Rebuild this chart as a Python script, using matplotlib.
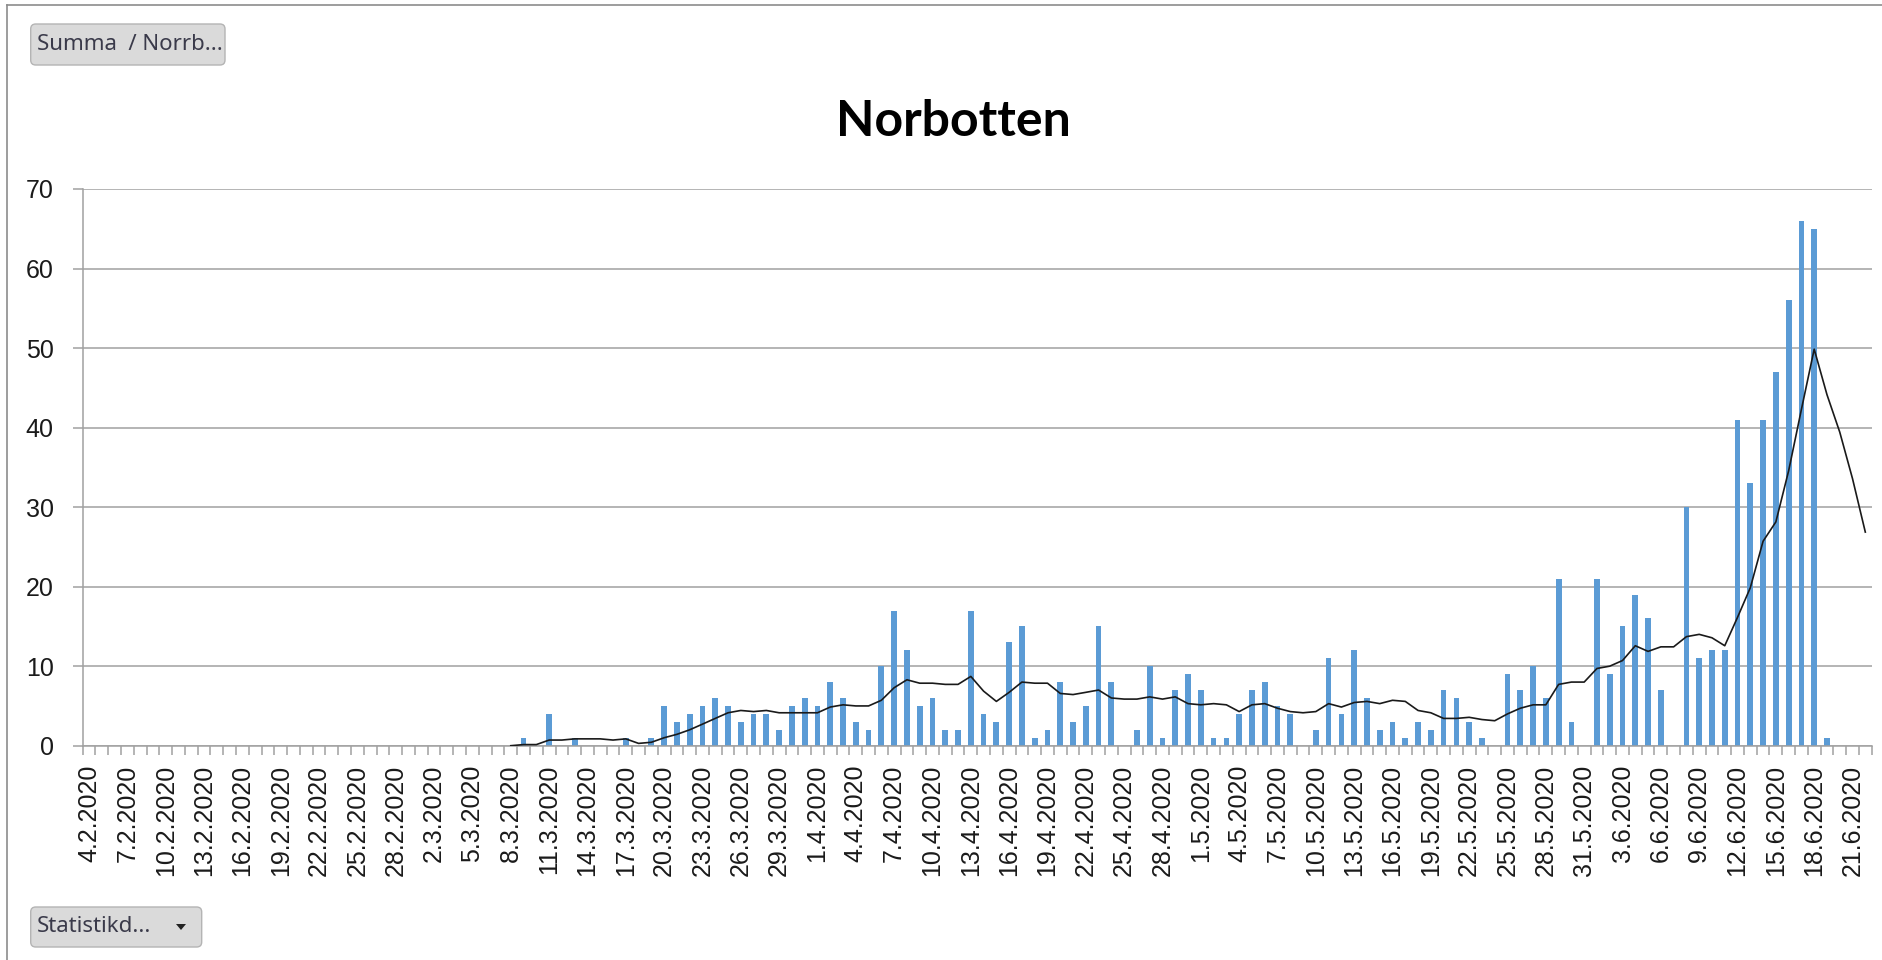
import numpy as np
import pandas as pd
import matplotlib
matplotlib.use("Agg")
import matplotlib.pyplot as plt
from matplotlib.patches import FancyBboxPatch, Polygon
from matplotlib.lines import Line2D
from matplotlib.transforms import Affine2D

# Dagar 4.2.2020 - 22.6.2020
days = pd.date_range("2020-02-04", "2020-06-22", freq="D")
day_labels = [f"{d.day}.{d.month}.{d.year}" for d in days]

# Fall per dag, Norrbotten (från 9.3.2020)
cases = [0] * 34 + [
    1, 0, 4, 0, 1, 0, 0, 0, 1, 0,
    1, 5, 3, 4, 5, 6, 5, 3, 4, 4,
    2, 5, 6, 5, 8, 6, 3, 2, 10, 17,
    12, 5, 6, 2, 2, 17, 4, 3, 13, 15,
    1, 2, 8, 3, 5, 15, 8, 0, 2, 10,
    1, 7, 9, 7, 1, 1, 4, 7, 8, 5,
    4, 0, 2, 11, 4, 12, 6, 2, 3, 1,
    3, 2, 7, 6, 3, 1, 0, 9, 7, 10,
    6, 21, 3, 0, 21, 9, 15, 19, 16, 7,
    0, 30, 11, 12, 12, 41, 33, 41, 47, 56,
    66, 65, 1, 0, 0, 0,
]

# Glidande medelvärde (avläst), från 8.3.2020
avg_start = 33
avg7 = [
    0, 0.14, 0.14, 0.71, 0.71, 0.86, 0.86, 0.86, 0.71, 0.86,
    0.29, 0.43, 1.0, 1.43, 2.0, 2.71, 3.43, 4.14, 4.43, 4.29,
    4.43, 4.14, 4.14, 4.14, 4.14, 4.86, 5.14, 5.0, 5.0, 5.71,
    7.29, 8.29, 7.86, 7.86, 7.71, 7.71, 8.71, 6.86, 5.57, 6.71,
    8.0, 7.86, 7.86, 6.57, 6.43, 6.71, 7.0, 6.0, 5.86, 5.86,
    6.14, 5.86, 6.14, 5.29, 5.14, 5.29, 5.14, 4.29, 5.14, 5.29,
    4.71, 4.29, 4.14, 4.29, 5.29, 4.86, 5.43, 5.57, 5.29, 5.71,
    5.57, 4.43, 4.14, 3.43, 3.43, 3.57, 3.29, 3.14, 4.0, 4.71,
    5.14, 5.14, 7.71, 8.0, 8.0, 9.71, 10.0, 10.71, 12.57, 11.86,
    12.43, 12.43, 13.71, 14.0, 13.57, 12.57, 16.14, 19.86, 25.71, 28.14,
    34.57, 42.29, 49.86, 44.14, 39.43, 33.57, 26.86,
]

W, H = 1883, 960
GRAY = "#A0A0A0"
fig = plt.figure(figsize=(W / 100, H / 100), dpi=100)
fig.patch.set_facecolor("white")

ax = fig.add_axes([82.7 / W, 1 - 745.7 / H, (1871.7 - 82.7) / W, (745.7 - 189) / H])

x = np.arange(len(days))
ax.bar(x, cases, width=0.45, color="#5B9BD5", zorder=2)
ax.plot(np.arange(avg_start, avg_start + len(avg7)), avg7, color="#1a1a1a", lw=1.2, zorder=3)

ax.set_xlim(-0.5, len(days) - 0.5)
ax.set_ylim(0, 70)
ax.set_yticks(range(0, 71, 10))
ax.yaxis.grid(True, color=GRAY, lw=1.1)
ax.set_axisbelow(True)

for s in ["top", "right"]:
    ax.spines[s].set_visible(False)
for s in ["left", "bottom"]:
    ax.spines[s].set_color(GRAY)
    ax.spines[s].set_linewidth(1.1)

tick_font = {"family": "Liberation Sans", "size": 18}
ax.set_xticks(x[::3])
ax.set_xticklabels(day_labels[::3], rotation=90, fontdict=tick_font, color="#1a1a1a")
ax.set_xticks(np.arange(-0.5, len(days), 1), minor=True)
ax.tick_params(axis="x", which="major", length=0, pad=13.5)
ax.tick_params(axis="x", which="minor", length=6.8, color=GRAY, width=1.1)
ax.set_yticklabels([str(v) for v in range(0, 71, 10)], fontdict=tick_font, color="#1a1a1a")
ax.tick_params(axis="y", length=7, color=GRAY, width=1.1, pad=14)

fig.text(953 / W, 1 - 122 / H, "Norbotten", ha="center", va="center",
         fontsize=36, fontweight="bold", family="Lato", color="black")

# ramen runt diagrammet
fig.add_artist(Line2D([6.7 / W, 6.7 / W], [0, 1 - 5 / H], transform=fig.transFigure, color="#8C8C8C", lw=1.2))
fig.add_artist(Line2D([6.7 / W, 1], [1 - 5 / H, 1 - 5 / H], transform=fig.transFigure, color="#8C8C8C", lw=1.2))

# fältknappar
px = Affine2D().scale(1 / W, 1 / H) + fig.transFigure


def button(x0, y0, x1, y1, label):
    b = FancyBboxPatch((x0, H - y1), x1 - x0, y1 - y0,
                       boxstyle="round,pad=0,rounding_size=5",
                       transform=px, facecolor="#DADADA", edgecolor="#B4B4B4", lw=1.0)
    fig.add_artist(b)
    fig.text((x0 + 6) / W, 1 - (y0 + y1) / 2 / H, label, ha="left", va="center",
             fontsize=16, family="Noto Sans", color="#3a3a4a")


button(30.7, 24, 225, 65, "Summa  / Norrb...")
button(30.7, 907, 201.7, 947, "Statistikd...")
tri = Polygon([[176, H - 924], [186, H - 924], [181, H - 930]], closed=True,
              transform=px, facecolor="#222222", edgecolor="none")
fig.add_artist(tri)

fig.savefig("out.png", dpi=100)
